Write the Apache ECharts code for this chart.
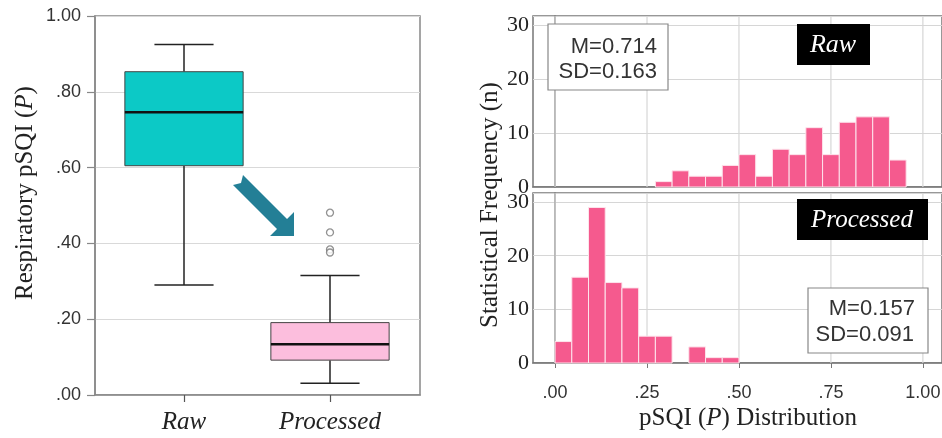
<!DOCTYPE html>
<html>
<head>
<meta charset="utf-8">
<script src="https://cdn.jsdelivr.net/npm/echarts@6/dist/echarts.min.js"></script>
<style>
html,body{margin:0;padding:0;background:#fff;}
#chart{width:942px;height:438px;}
</style>
</head>
<body>
<div id="chart"></div>
<script>
// ---- Data ----
const boxCategories = ['Raw', 'Processed'];
const boxLow    = [0.290, 0.031];
const boxQ1     = [0.605, 0.092];
const boxMedian = [0.746, 0.134];
const boxQ3     = [0.853, 0.191];
const boxHigh   = [0.925, 0.315];
const processedOutliers = [0.481, 0.429, 0.384, 0.376];
const boxTickLabels = ['.00', '.20', '.40', '.60', '.80', '1.00'];

const histBinCount = 22;
const rawCounts       = [0,0,0,0,0,0,1,3,2,2,4,6,2,7,6,11,6,12,13,13,5,0];
const processedCounts = [4,16,29,15,14,5,5,0,3,1,1,0,0,0,0,0,0,0,0,0,0,0];
const histTickValues = [0, 0.25, 0.5, 0.75, 1];
const histTickLabels = ['.00', '.25', '.50', '.75', '1.00'];
const freqTicks = [0, 10, 20, 30];
const rawStats = ['M=0.714', 'SD=0.163'];
const processedStats = ['M=0.157', 'SD=0.091'];

// ---- Styles ----
const boxColors = ['#0cc9c6', '#fcbedd'];
const pink = '#f55a8e';
const serif = '"Liberation Serif", "Times New Roman", serif';
const sans = '"Liberation Sans", Arial, sans-serif';

const boxData = boxCategories.map((c, i) => [i, boxLow[i], boxQ1[i], boxMedian[i], boxQ3[i], boxHigh[i]]);
const outlierData = processedOutliers.map(v => [1, v]);
function histRows(counts) {
  const rows = [];
  counts.forEach((n, i) => { if (n > 0) rows.push([i / histBinCount, (i + 1) / histBinCount, n]); });
  return rows;
}

function renderBox(params, api) {
  const i = api.value(0);
  const lo = api.coord([i, api.value(1)]);
  const q1 = api.coord([i, api.value(2)]);
  const md = api.coord([i, api.value(3)]);
  const q3 = api.coord([i, api.value(4)]);
  const hi = api.coord([i, api.value(5)]);
  const bw = api.size([1, 0])[0] * 0.81;
  const x = md[0];
  const cap = bw / 4;
  const ls = { stroke: '#222', lineWidth: 1.5 };
  return {
    type: 'group',
    children: [
      { type: 'line', shape: { x1: x, y1: hi[1], x2: x, y2: q3[1] }, style: ls },
      { type: 'line', shape: { x1: x, y1: q1[1], x2: x, y2: lo[1] }, style: ls },
      { type: 'line', shape: { x1: x - cap, y1: hi[1], x2: x + cap, y2: hi[1] }, style: ls },
      { type: 'line', shape: { x1: x - cap, y1: lo[1], x2: x + cap, y2: lo[1] }, style: ls },
      { type: 'rect', shape: { x: x - bw / 2, y: q3[1], width: bw, height: q1[1] - q3[1] },
        style: { fill: boxColors[i], stroke: '#444', lineWidth: 1 } },
      { type: 'line', shape: { x1: x - bw / 2, y1: md[1], x2: x + bw / 2, y2: md[1] },
        style: { stroke: '#111', lineWidth: 2.5 } }
    ]
  };
}

function renderHist(params, api) {
  const p0 = api.coord([api.value(0), 0]);
  const p1 = api.coord([api.value(1), api.value(2)]);
  return {
    type: 'rect',
    shape: { x: p0[0], y: p1[1], width: p1[0] - p0[0], height: p0[1] - p1[1] },
    style: { fill: pink, stroke: '#fde4ec', lineWidth: 1 }
  };
}

function renderVGrid(params, api) {
  const p = api.coord([api.value(0), 0]);
  const cs = params.coordSys;
  return {
    type: 'line',
    shape: { x1: p[0], y1: cs.y, x2: p[0], y2: cs.y + cs.height },
    style: { stroke: '#d6d6d6', lineWidth: 1.2 }
  };
}

const histXMin = -0.06, histXMax = 1.052, freqMax = 31.7;

function histX(gridIndex, showLabels) {
  return {
    type: 'value', gridIndex: gridIndex, min: histXMin, max: histXMax,
    axisLine: { show: true, onZero: false, lineStyle: { color: '#777', width: 1.5 } },
    axisTick: { show: showLabels, length: 5, customValues: histTickValues, lineStyle: { color: '#777' } },
    axisLabel: showLabels ? {
      show: true, customValues: histTickValues, margin: 21,
      formatter: v => histTickLabels[histTickValues.findIndex(t => Math.abs(t - v) < 1e-6)] || '',
      fontFamily: sans, fontSize: 18, color: '#333'
    } : { show: false },
    splitLine: { show: false }
  };
}
function histY(gridIndex) {
  return {
    type: 'value', gridIndex: gridIndex, min: 0, max: freqMax, interval: 10,
    axisLine: { show: true, lineStyle: { color: '#777', width: 1.5 } },
    axisTick: { show: false },
    axisLabel: {
      margin: 4, fontFamily: serif, fontSize: 22, color: '#222',
      formatter: v => freqTicks.indexOf(v) >= 0 ? String(v) : ''
    },
    splitLine: { show: true, lineStyle: { color: '#d6d6d6', width: 1.2 } }
  };
}

const titleRich = {
  a: { fontFamily: serif, fontSize: 25, fill: '#222' },
  b: { fontFamily: serif, fontSize: 25, fontStyle: 'italic', fill: '#222' }
};

const option = {
  backgroundColor: '#fff',
  animation: false,
  grid: [
    { left: 95, right: 522, top: 16, bottom: 43, show: true, borderColor: '#888', borderWidth: 1.5, outerBoundsMode: 'none' },
    { left: 111, right: 539, top: 16, bottom: 43, outerBoundsMode: 'none' },
    { left: 533, right: 0, top: 16, bottom: 251, show: true, borderColor: '#777', borderWidth: 1.5, outerBoundsMode: 'none' },
    { left: 533, right: 0, top: 193, bottom: 75, show: true, borderColor: '#777', borderWidth: 1.5, outerBoundsMode: 'none' }
  ],
  xAxis: [
    { type: 'value', gridIndex: 0, min: 0, max: 1, axisLine: { show: true, lineStyle: { color: '#888', width: 1.5 } },
      axisTick: { show: false }, axisLabel: { show: false }, splitLine: { show: false } },
    { type: 'category', gridIndex: 1, data: boxCategories, boundaryGap: true,
      axisLine: { show: false },
      axisTick: { show: true, alignWithLabel: true, length: 7, lineStyle: { color: '#555', width: 1.2 } },
      axisLabel: { margin: 15, fontFamily: serif, fontStyle: 'italic', fontSize: 25, color: '#222' } },
    histX(2, false),
    histX(3, true)
  ],
  yAxis: [
    { type: 'value', gridIndex: 0, min: 0, max: 1, interval: 0.2,
      axisLine: { show: true, lineStyle: { color: '#888', width: 1.5 } },
      axisTick: { show: true, length: 8, lineStyle: { color: '#888', width: 1.2 } },
      axisLabel: { margin: 14, fontFamily: sans, fontSize: 18, color: '#333',
        formatter: v => boxTickLabels[Math.round(v / 0.2)] },
      splitLine: { show: true, lineStyle: { color: '#d9d9d9', width: 1.2 } } },
    { type: 'value', gridIndex: 1, min: 0, max: 1, show: false },
    histY(2),
    histY(3)
  ],
  series: [
    { type: 'custom', name: 'box', xAxisIndex: 1, yAxisIndex: 1, data: boxData, renderItem: renderBox, z: 3 },
    { type: 'scatter', name: 'outliers', xAxisIndex: 1, yAxisIndex: 1, data: outlierData,
      symbol: 'circle', symbolSize: 7, z: 4,
      itemStyle: { color: '#fff', borderColor: '#777', borderWidth: 1.3 } },
    { type: 'custom', xAxisIndex: 2, yAxisIndex: 2, data: histTickValues.map(v => [v]), renderItem: renderVGrid, z: 1, silent: true },
    { type: 'custom', xAxisIndex: 3, yAxisIndex: 3, data: histTickValues.map(v => [v]), renderItem: renderVGrid, z: 1, silent: true },
    { type: 'custom', name: 'Raw', xAxisIndex: 2, yAxisIndex: 2, data: histRows(rawCounts), renderItem: renderHist, z: 3 },
    { type: 'custom', name: 'Processed', xAxisIndex: 3, yAxisIndex: 3, data: histRows(processedCounts), renderItem: renderHist, z: 3 }
  ],
  graphic: [
    // arrow annotation
    { type: 'polygon', z: 10,
      shape: { points: [[243,175],[287,219],[294,212],[294,236],[270,236],[277,229],[233,185],[241,183]] },
      style: { fill: '#237f96' } },
    // left y title
    { type: 'text', x: 25, y: 193, rotation: Math.PI / 2, z: 10,
      style: { text: '{a|Respiratory pSQI (}{b|P}{a|)}', align: 'center', verticalAlign: 'middle', rich: titleRich } },
    // right y title
    { type: 'text', x: 490, y: 205, rotation: Math.PI / 2, z: 10,
      style: { text: 'Statistical Frequency (n)', align: 'center', verticalAlign: 'middle',
        fontFamily: serif, fontSize: 25, fill: '#222' } },
    // x title
    { type: 'text', x: 748, y: 418, z: 10,
      style: { text: '{a|pSQI (}{b|P}{a|) Distribution}', align: 'center', verticalAlign: 'middle', rich: titleRich } },
    // stat boxes
    { type: 'rect', z: 10, shape: { x: 548, y: 24, width: 120, height: 66 }, style: { fill: '#fff', stroke: '#888', lineWidth: 1.2 } },
    { type: 'text', z: 11, x: 657, y: 47, style: { text: rawStats[0], align: 'right', verticalAlign: 'middle', fontFamily: sans, fontSize: 22, fill: '#333' } },
    { type: 'text', z: 11, x: 657, y: 72, style: { text: rawStats[1], align: 'right', verticalAlign: 'middle', fontFamily: sans, fontSize: 22, fill: '#333' } },
    { type: 'rect', z: 10, shape: { x: 808, y: 288, width: 120, height: 65 }, style: { fill: '#fff', stroke: '#888', lineWidth: 1.2 } },
    { type: 'text', z: 11, x: 915, y: 309, style: { text: processedStats[0], align: 'right', verticalAlign: 'middle', fontFamily: sans, fontSize: 22, fill: '#333' } },
    { type: 'text', z: 11, x: 914, y: 335, style: { text: processedStats[1], align: 'right', verticalAlign: 'middle', fontFamily: sans, fontSize: 22, fill: '#333' } },
    // panel labels
    { type: 'rect', z: 10, shape: { x: 797, y: 24, width: 73, height: 41 }, style: { fill: '#000' } },
    { type: 'text', z: 11, x: 833, y: 45, style: { text: 'Raw', align: 'center', verticalAlign: 'middle', fontFamily: serif, fontStyle: 'italic', fontSize: 26, fill: '#fff' } },
    { type: 'rect', z: 10, shape: { x: 797, y: 199, width: 131, height: 41 }, style: { fill: '#000' } },
    { type: 'text', z: 11, x: 862, y: 220, style: { text: 'Processed', align: 'center', verticalAlign: 'middle', fontFamily: serif, fontStyle: 'italic', fontSize: 25, fill: '#fff' } }
  ]
};

const chart = echarts.init(document.getElementById('chart'), null, { renderer: 'canvas' });
chart.setOption(option);
</script>
</body>
</html>
